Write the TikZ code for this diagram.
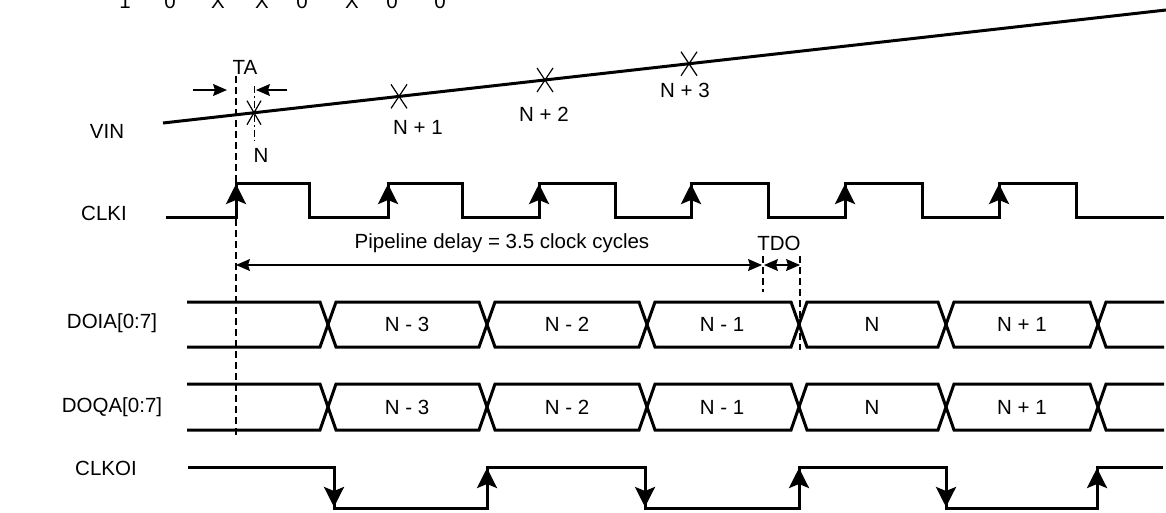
\documentclass[tikz,border=0pt]{standalone}
\usepackage{fontspec}
\setmainfont{Liberation Sans}
\usetikzlibrary{arrows.meta}

\begin{document}
\begin{tikzpicture}[x=1pt,y=-1pt,
  sig/.style={line width=3pt},
  guide/.style={line width=1.4pt, dash pattern=on 7pt off 4pt},
  dimline/.style={line width=1.2pt},
  tip/.style={-{Stealth[length=20pt,width=20pt,inset=4pt]}},
  dimtip/.style={{Stealth[length=14pt,width=12pt,inset=2pt]}-{Stealth[length=14pt,width=12pt,inset=2pt]}},
  every node/.style={font=\fontsize{20.5}{24}\selectfont, inner sep=0pt}]
\useasboundingbox (0,0) rectangle (1166,512);

\node[anchor=base] (b1) at (125,8) {1};
\node[anchor=base] (b2) at (170,8) {0};
\node[anchor=base] (b3) at (218,8) {X};
\node[anchor=base] (b4) at (262,8) {X};
\node[anchor=base] (b5) at (302,8) {0};
\node[anchor=base] (b6) at (352,8) {X};
\node[anchor=base] (b7) at (392,8) {0};
\node[anchor=base] (b8) at (440,8) {0};

\node (vin) at (107,131) {VIN};
\node (clki) at (104,213) {CLKI};
\node (doia) at (112,323) {DOIA[0:7]};
\node (doqa) at (112,407) {DOQA[0:7]};
\node (clkoi) at (106,468) {CLKOI};

\coordinate (v0) at (163,123);
\coordinate (v1) at (1166,10);
\draw[sig] (v0)--(v1);

\coordinate (sn) at (254,112.7);
\coordinate (sn1) at (399,96.4);
\coordinate (sn2) at (545,80);
\coordinate (sn3) at (689,63.7);
\draw[line width=1.2pt] (sn) +(-7,-12) -- +(7,12) (sn) +(7,-12) -- +(-7,12);
\draw[line width=1.2pt] (sn1) +(-8,-12) -- +(8,12) (sn1) +(8,-12) -- +(-8,12);
\draw[line width=1.2pt] (sn2) +(-8,-12) -- +(8,12) (sn2) +(8,-12) -- +(-8,12);
\draw[line width=1.2pt] (sn3) +(-8,-12) -- +(8,12) (sn3) +(8,-12) -- +(-8,12);
\node (ln) at (261,155) {N};
\node (ln1) at (418,127) {N + 1};
\node (ln2) at (544,114) {N + 2};
\node (ln3) at (685,90) {N + 3};

\node (ta) at (245,67) {TA};
\coordinate (ta0) at (193,90);
\coordinate (ta1) at (227,90);
\coordinate (ta2) at (287,90);
\coordinate (ta3) at (256,90);
\draw[dimline,-{Stealth[length=14pt,width=12pt,inset=2pt]}] (ta0) -- (ta1);
\draw[dimline,-{Stealth[length=14pt,width=12pt,inset=2pt]}] (ta2) -- (ta3);
\draw[guide] (236,76) -- (236,437);
\draw[line width=1pt, dash pattern=on 7pt off 3pt on 1.5pt off 3pt] (254,86) -- (254,142);

\draw[sig] (166,217) -- (236,217) -- (236,183) -- (309,183) -- (309,217)
  -- (388,217) -- (388,183) -- (462,183) -- (462,217)
  -- (539,217) -- (539,183) -- (615,183) -- (615,217)
  -- (691,217) -- (691,183) -- (768,183) -- (768,217)
  -- (845,217) -- (845,183) -- (922,183) -- (922,217)
  -- (999,217) -- (999,183) -- (1076,183) -- (1076,217) -- (1164,217);
\draw[sig,tip] (236,212) -- (236,184);
\draw[sig,tip] (388,212) -- (388,184);
\draw[sig,tip] (539,212) -- (539,184);
\draw[sig,tip] (691,212) -- (691,184);
\draw[sig,tip] (845,212) -- (845,184);
\draw[sig,tip] (999,212) -- (999,184);

\node (pd) at (502,243) {Pipeline delay = 3.5 clock cycles};
\node (tdo) at (779,243) {TDO};
\coordinate (pd0) at (236,265);
\coordinate (pd1) at (762,265);
\coordinate (td0) at (764,265);
\coordinate (td1) at (800,265);
\draw[dimline,dimtip] (pd0) -- (pd1);
\draw[dimline,dimtip] (td0) -- (td1);
\draw[guide] (763,256) -- (763,292);
\draw[guide] (800,256) -- (800,350);

\draw[sig] (187,302) -- (320,302) -- (336,347) -- (479,347) -- (495,302) -- (639,302) -- (655,347)
  -- (791,347) -- (807,302) -- (938,302) -- (954,347) -- (1090,347) -- (1106,302) -- (1164,302);
\draw[sig] (187,347) -- (320,347) -- (336,302) -- (479,302) -- (495,347) -- (639,347) -- (655,302)
  -- (791,302) -- (807,347) -- (938,347) -- (954,302) -- (1090,302) -- (1106,347) -- (1164,347);
\node (a3) at (407,324) {N - 3};
\node (a2) at (567,324) {N - 2};
\node (a1) at (722,324) {N - 1};
\node (a0) at (872,324) {N};
\node (ap) at (1022,324) {N + 1};

\draw[sig] (187,384) -- (320,384) -- (336,430) -- (479,430) -- (495,384) -- (639,384) -- (655,430)
  -- (791,430) -- (807,384) -- (938,384) -- (954,430) -- (1090,430) -- (1106,384) -- (1164,384);
\draw[sig] (187,430) -- (320,430) -- (336,384) -- (479,384) -- (495,430) -- (639,430) -- (655,384)
  -- (791,384) -- (807,430) -- (938,430) -- (954,384) -- (1090,384) -- (1106,430) -- (1164,430);
\node (q3) at (407,407) {N - 3};
\node (q2) at (567,407) {N - 2};
\node (q1) at (722,407) {N - 1};
\node (q0) at (872,407) {N};
\node (qp) at (1022,407) {N + 1};

\draw[sig] (188,467) -- (334,467) -- (334,508) -- (487,508) -- (487,467) -- (645,467) -- (645,508)
  -- (799,508) -- (799,467) -- (946,467) -- (946,508) -- (1097,508) -- (1097,467) -- (1163,467);
\draw[sig,tip] (334,475) -- (334,507);
\draw[sig,tip] (487,500) -- (487,468);
\draw[sig,tip] (645,475) -- (645,507);
\draw[sig,tip] (799,500) -- (799,468);
\draw[sig,tip] (946,475) -- (946,507);
\draw[sig,tip] (1097,500) -- (1097,468);
\end{tikzpicture}
\end{document}
